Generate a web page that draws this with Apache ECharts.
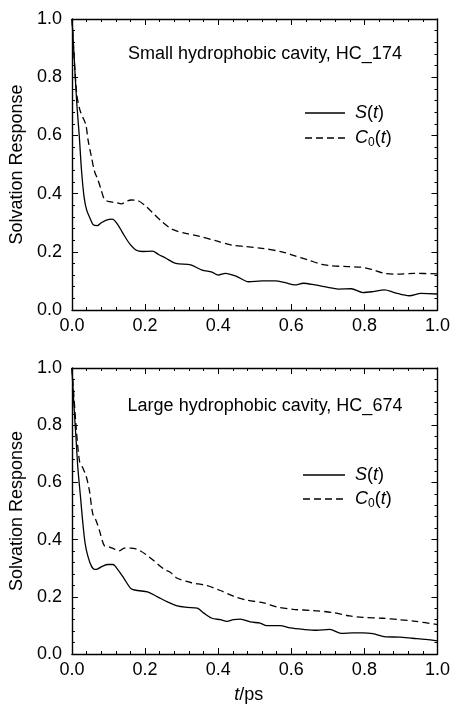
<!DOCTYPE html>
<html><head><meta charset="utf-8">
<script src="https://cdn.jsdelivr.net/npm/echarts@6/dist/echarts.min.js"></script>
<style>html,body{margin:0;padding:0;background:#fff}#c{width:453px;height:705px}</style>
</head><body><div id="c"></div>
<script>
// ---- data (t in ps) ----
const topTitle = 'Small hydrophobic cavity, HC_174';
const botTitle = 'Large hydrophobic cavity, HC_674';

const sTopT = [0,0.005,0.0126,0.02,0.026,0.033,0.04,0.049,0.058,0.069,0.08,0.094,0.11,0.126,0.139,0.157,0.175,0.193,0.22,0.238,0.257,0.284,0.325,0.356,0.383,0.40,0.42,0.451,0.483,0.52,0.556,0.583,0.61,0.633,0.665,0.70,0.728,0.764,0.796,0.823,0.855,0.882,0.923,0.955,1.0];
const sTopV = [1.0,0.89,0.72,0.596,0.48,0.389,0.344,0.316,0.293,0.29,0.30,0.309,0.312,0.292,0.264,0.229,0.206,0.201,0.202,0.19,0.178,0.16,0.155,0.137,0.13,0.12,0.126,0.115,0.097,0.10,0.10,0.094,0.086,0.092,0.086,0.078,0.072,0.073,0.06,0.063,0.069,0.06,0.049,0.057,0.055];

const cTopT = [0,0.0126,0.0217,0.029,0.038,0.044,0.053,0.062,0.071,0.08,0.089,0.103,0.121,0.135,0.148,0.162,0.18,0.198,0.22,0.2475,0.275,0.311,0.347,0.393,0.438,0.474,0.52,0.574,0.61,0.646,0.683,0.71,0.755,0.79,0.819,0.855,0.891,0.936,1.0];
const cTopV = [1.0,0.745,0.687,0.664,0.636,0.584,0.527,0.475,0.447,0.412,0.38,0.372,0.369,0.365,0.373,0.378,0.376,0.361,0.335,0.302,0.277,0.263,0.254,0.238,0.223,0.218,0.212,0.20,0.186,0.172,0.157,0.152,0.149,0.147,0.14,0.126,0.123,0.126,0.124];

const sBotT = [0,0.005,0.0118,0.0163,0.0236,0.03,0.036,0.0436,0.053,0.062,0.071,0.084,0.098,0.112,0.125,0.1435,0.162,0.18,0.207,0.234,0.2616,0.288,0.315,0.343,0.361,0.383,0.406,0.424,0.442,0.461,0.488,0.515,0.533,0.569,0.597,0.633,0.669,0.705,0.737,0.769,0.796,0.823,0.859,0.896,0.932,0.968,1.0];
const sBotV = [1.0,0.88,0.741,0.65,0.547,0.456,0.388,0.342,0.308,0.296,0.298,0.307,0.313,0.313,0.296,0.262,0.228,0.222,0.217,0.2,0.182,0.168,0.163,0.16,0.143,0.125,0.12,0.114,0.12,0.122,0.112,0.108,0.099,0.099,0.091,0.086,0.083,0.086,0.072,0.074,0.074,0.071,0.06,0.059,0.055,0.051,0.046];

const cBotT = [0,0.0118,0.021,0.03,0.039,0.048,0.057,0.066,0.075,0.089,0.103,0.116,0.13,0.1435,0.162,0.18,0.2025,0.225,0.2525,0.27,0.288,0.325,0.37,0.406,0.442,0.479,0.524,0.56,0.606,0.66,0.714,0.76,0.796,0.85,0.896,0.941,1.0];
const cBotV = [1.0,0.79,0.673,0.65,0.622,0.57,0.49,0.467,0.433,0.378,0.374,0.367,0.361,0.37,0.37,0.365,0.348,0.325,0.296,0.285,0.265,0.25,0.239,0.222,0.202,0.188,0.179,0.165,0.156,0.152,0.145,0.133,0.128,0.125,0.12,0.114,0.103];

const zip = (a, b) => a.map((t, i) => [t, b[i]]);

const FONT = '"Liberation Sans", Arial, Helvetica, sans-serif';
const chart = echarts.init(document.getElementById('c'), null, {renderer: 'canvas'});

const grids = [
  {left: 72, top: 19, width: 369, height: 291},
  {left: 71, top: 368, width: 367, height: 292}
];

function xAx(gi, pos, showLabel, name) {
  return {
    type: 'value', gridIndex: gi, position: pos, min: 0, max: 1, interval: 0.2,
    axisLine: {show: true, onZero: false, lineStyle: {color: '#000', width: 1.4}},
    axisTick: {show: true, inside: true, length: 6, lineStyle: {color: '#000', width: 1}},
    minorTick: {show: true, splitNumber: 5, length: 3, lineStyle: {color: '#000', width: 1}},
    splitLine: {show: false},
    axisLabel: {show: showLabel, margin: 7, color: '#000', fontSize: 18, fontFamily: FONT,
      formatter: v => v.toFixed(1)},
    name: name || '', nameLocation: 'middle', nameGap: 32,
    nameTextStyle: {color: '#000', fontSize: 18, fontFamily: FONT, padding: [0, 12, 0, 0],
      rich: {i: {fontStyle: 'italic', fontSize: 18, fontFamily: FONT, color: '#000'},
             n: {fontSize: 18, fontFamily: FONT, color: '#000'}}}
  };
}
function yAx(gi, pos, showLabel) {
  return {
    type: 'value', gridIndex: gi, position: pos, min: 0, max: 1, interval: 0.2,
    axisLine: {show: true, onZero: false, lineStyle: {color: '#000', width: 1.4}},
    axisTick: {show: true, inside: true, length: 6, lineStyle: {color: '#000', width: 1}},
    minorTick: {show: true, splitNumber: 5, length: 3, lineStyle: {color: '#000', width: 1}},
    splitLine: {show: false},
    axisLabel: {show: showLabel, margin: 10, color: '#000', fontSize: 18, fontFamily: FONT,
      formatter: v => v.toFixed(1)},
    name: showLabel ? 'Solvation Response' : '', nameLocation: 'middle', nameGap: 45,
    nameTextStyle: {color: '#000', fontSize: 18, fontFamily: FONT}
  };
}

function lineSeries(xi, yi, data, dashed) {
  return {
    type: 'line', xAxisIndex: xi, yAxisIndex: yi, data: data, showSymbol: false,
    smooth: 0.3, animation: false,
    lineStyle: {color: '#000', width: 1.3, type: dashed ? [7, 4] : 'solid'}
  };
}

const legRich = {
  i: {fontStyle: 'italic', fontSize: 18, fontFamily: FONT, fill: '#000'},
  n: {fontSize: 18, fontFamily: FONT, fill: '#000'},
  s: {fontSize: 12, fontFamily: FONT, fill: '#000', padding: [10, 0, 0, 0]}
};
function legendGraphics(ySolid, yDash, x1, x2, tx) {
  return [
    {type: 'line', shape: {x1: x1, y1: ySolid, x2: x2, y2: ySolid}, style: {stroke: '#000', lineWidth: 1.3}},
    {type: 'line', shape: {x1: x1, y1: yDash, x2: x2, y2: yDash}, style: {stroke: '#000', lineWidth: 1.3, lineDash: [7, 4]}},
    {type: 'text', x: tx, y: ySolid, style: {text: '{i|S}{n|(}{i|t}{n|)}', rich: legRich, verticalAlign: 'middle', align: 'left'}},
    {type: 'text', x: tx, y: yDash, style: {text: '{i|C}{s|0}{n|(}{i|t}{n|)}', rich: legRich, verticalAlign: 'middle', align: 'left'}}
  ];
}

const option = {
  backgroundColor: '#fff',
  animation: false,
  grid: grids,
  xAxis: [xAx(0, 'bottom', true), xAx(0, 'top', false), xAx(1, 'bottom', true, '{i|t}{n|/ps}'), xAx(1, 'top', false)],
  yAxis: [yAx(0, 'left', true), yAx(0, 'right', false), yAx(1, 'left', true), yAx(1, 'right', false)],
  series: [
    lineSeries(0, 0, zip(sTopT, sTopV), false),
    lineSeries(0, 0, zip(cTopT, cTopV), true),
    lineSeries(2, 2, zip(sBotT, sBotV), false),
    lineSeries(2, 2, zip(cBotT, cBotV), true)
  ],
  graphic: [
    {type: 'text', x: 265, y: 54, style: {text: topTitle, font: '18px ' + FONT, fill: '#000', align: 'center', verticalAlign: 'middle'}},
    {type: 'text', x: 265, y: 406, style: {text: botTitle, font: '18px ' + FONT, fill: '#000', align: 'center', verticalAlign: 'middle'}}
  ].concat(legendGraphics(113, 138, 305, 345, 355)).concat(legendGraphics(475, 499, 303, 345, 355))
};
chart.setOption(option);
</script>
</body></html>
